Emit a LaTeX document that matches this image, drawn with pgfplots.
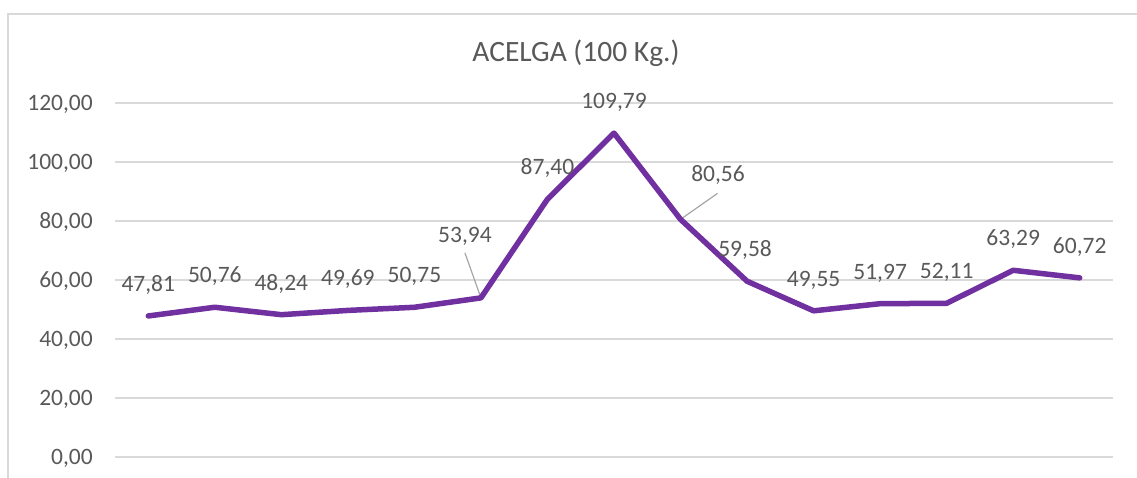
\documentclass[border=0pt]{standalone}
\usepackage{pgfplots}
\pgfplotsset{compat=1.18}
\usepackage{pgfplotstable}
\usepackage{fontspec}
\setmainfont{Carlito}
\definecolor{txtgray}{HTML}{595959}
\definecolor{gridgray}{HTML}{D9D9D9}
\definecolor{leadgray}{HTML}{A6A6A6}
\definecolor{linepurple}{HTML}{7030A0}

\pgfplotstableread{
x y lab lx ly
0 47.81 47,81 0 24.5
1 50.76 50,76 0 24.5
2 48.24 48,24 0 24.5
3 49.69 49,69 0 24.5
4 50.75 50,75 0 24.5
5 53.94 53,94 -16 55.5
6 87.40 87,40 0 24.5
7 109.79 109,79 0 24.5
8 80.56 80,56 37.5 37.5
9 59.58 59,58 -2 24.5
10 49.55 49,55 0 24.5
11 51.97 51,97 0 24.5
12 52.11 52,11 0 24.5
13 63.29 63,29 0 24.5
14 60.72 60,72 0 24.5
}\acelga

\begin{document}
\begin{tikzpicture}
\begin{axis}[
  name=ax,
  scale only axis,
  width=998pt, height=354pt,
  xmin=-0.5, xmax=14.5,
  ymin=0, ymax=120,
  ytick={0,20,...,120},
  xtick=\empty,
  axis line style={draw=none},
  major tick style={draw=none},
  ymajorgrids,
  major grid style={color=gridgray, line width=1.5pt},
  clip=false,
  /pgf/number format/.cd, fixed, fixed zerofill, precision=2, use comma, assume math mode=true,
  /pgfplots/.cd,
  yticklabel style={font=\fontsize{23.5}{28}\selectfont, text=txtgray, anchor=base east, inner sep=0pt, xshift=-22pt, yshift=-7.4pt},
]
\draw[leadgray, line width=1.2pt] (axis cs:5,53.94) -- ++(-16pt,45pt);
\draw[leadgray, line width=1.2pt] (axis cs:8,80.56) -- ++(37pt,26pt);
\addplot[color=linepurple, line width=5.5pt, line cap=round, line join=round, mark=none,
  point meta=explicit symbolic,
  visualization depends on={\thisrow{lx} \as \lxx},
  visualization depends on={\thisrow{ly} \as \lyy},
  nodes near coords,
  every node near coord/.append style={font=\fontsize{23.5}{28}\selectfont, text=txtgray, anchor=base, inner sep=0pt, xshift=\lxx pt, yshift=\lyy pt},
] table[x=x, y=y, meta=lab] {\acelga};
\end{axis}
\node[anchor=base, font=\fontsize{29.5}{34}\selectfont, text=txtgray] at ([xshift=461pt, yshift=395pt]ax.south west) {ACELGA (100 Kg.)};
\draw[gridgray, line width=1.5pt] ([xshift=-107pt, yshift=-40pt]ax.south west) -- ([xshift=-107pt, yshift=443pt]ax.south west) -- ([xshift=1040pt, yshift=443pt]ax.south west);
\pgfresetboundingbox
\path ([xshift=-115pt, yshift=-21pt]ax.south west) rectangle ([xshift=1022pt, yshift=457pt]ax.south west);
\end{tikzpicture}
\end{document}
